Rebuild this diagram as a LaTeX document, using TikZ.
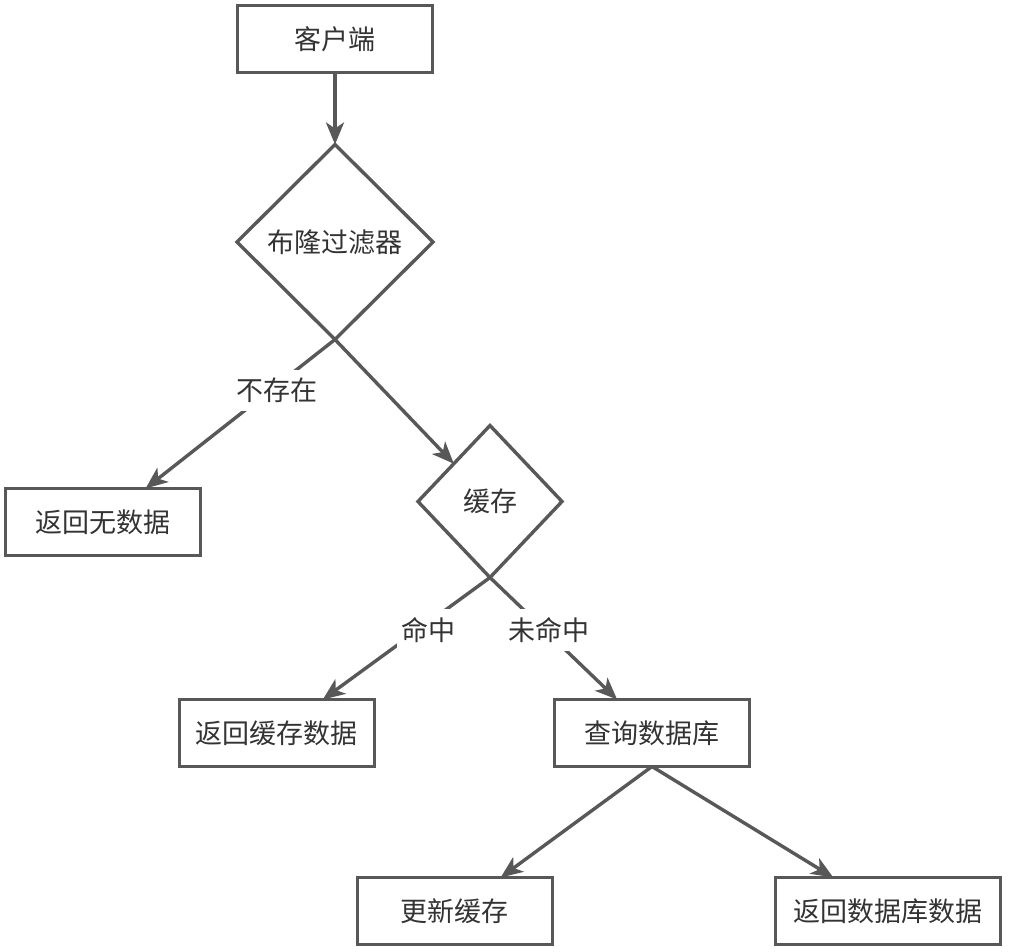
\documentclass[tikz,border=0pt]{standalone}
\usepackage{fontspec}
\setmainfont{Noto Sans CJK SC}
\usepackage{xcolor}
\usepackage{tikz}
\usetikzlibrary{arrows.meta,calc}
\usetikzlibrary{positioning,shapes}

\definecolor{linegray}{HTML}{585858}
\definecolor{textgray}{HTML}{333333}

\begin{document}
\begin{tikzpicture}[node distance=36pt,
    box/.style={draw=linegray, line width=1.7pt, rectangle, minimum width=97.5pt, minimum height=33.5pt, text=textgray, font=\fontsize{13.5}{16}\selectfont, outer sep=0pt},
    decision/.style={draw=linegray, line width=1.7pt, diamond, inner sep=0pt, text=textgray, font=\fontsize{13.5}{16}\selectfont, outer sep=0pt},
    flow/.style={draw=linegray, line width=1.7pt, -{Stealth[length=11pt, width=9pt, inset=3pt]}},
    tag/.style={fill=white, text=textgray, font=\fontsize{13.5}{16}\selectfont, inner xsep=2pt, inner ysep=4pt}]
    \useasboundingbox (-167.5pt,19.5pt) rectangle (338.5pt,-456.5pt);

    % Nodes
    \node[box] (client) {客户端};
    \node[decision, minimum width=98pt, minimum height=97.5pt, below=36pt of client] (bloom) {布隆过滤器};
    \node[box, below=74.5pt of bloom, xshift=-116pt] (nodata) {返回无数据};
    \node[decision, minimum width=72pt, minimum height=76pt, below=43pt of bloom, xshift=77.5pt] (cache) {缓存};
    \node[box, below=61pt of cache, xshift=-106.5pt] (cachedata) {返回缓存数据};
    \node[box, below=61pt of cache, xshift=81pt] (querydb) {查询数据库};
    \node[box, below=55.5pt of querydb, xshift=-98.5pt] (update) {更新缓存};
    \node[box, minimum width=112.5pt, below=55.5pt of querydb, xshift=118pt] (dbdata) {返回数据库数据};

    % Arrows with labels
    \draw[flow] (client) -- (bloom);
    \draw[flow] (bloom.south) -- node[tag, pos=0.34, xshift=3pt] {不存在} (nodata);
    \draw[flow] (bloom.south) -- (cache);
    \draw[flow] (cache.south) -- node[tag, pos=0.43, xshift=5pt] {命中} (cachedata);
    \draw[flow] (cache.south) -- node[tag, pos=0.43, xshift=2pt] {未命中} (querydb);
    \draw[flow] (querydb.south) -- (update);
    \draw[flow] (querydb.south) -- (dbdata);
\end{tikzpicture}
\end{document}
